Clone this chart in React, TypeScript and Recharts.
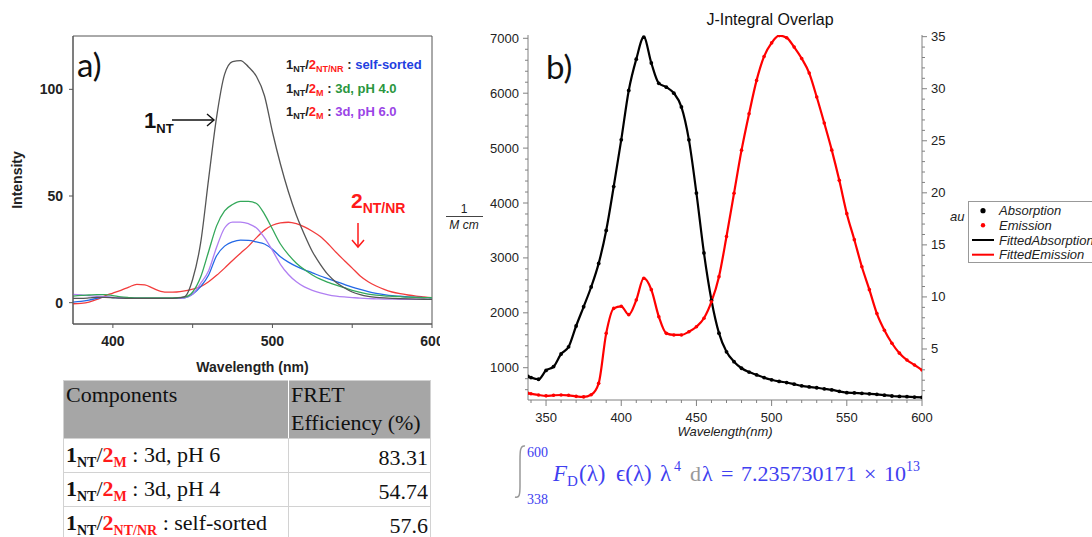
import React from 'react';
import { LineChart, Line, XAxis, YAxis, ReferenceArea, Label } from 'recharts';

// panel a: emission spectra (intensity vs wavelength, nm)
const waveA = [
  375, 380, 385, 390, 395, 400, 405, 410, 415, 420,
  425, 430, 435, 440, 445, 450, 455, 460, 465, 470,
  475, 480, 485, 490, 495, 500, 505, 510, 515, 520,
  525, 530, 535, 540, 545, 550, 555, 560, 565, 570,
  575, 580, 585, 590, 595, 600,
];
const donorOnly = [
  2, 2, 2.2, 2.5, 2.5, 2.3, 2.1, 2, 2, 2,
  2, 2, 2, 2.1, 2.8, 11, 28, 58, 87, 107,
  113, 113.5, 110.5, 106, 97, 80, 65, 52, 41, 32,
  24, 18, 13, 9.5, 7, 5, 3.8, 3, 2.5, 2.2,
  2, 1.9, 1.8, 1.7, 1.6, 1.5,
];
const ph4 = [
  3.1, 3.4, 3.6, 3.8, 3.8, 3.3, 2.7, 2.4, 2.2, 2.2,
  2.2, 2.2, 2.2, 2.3, 2.6, 5, 12, 24, 36, 43,
  46, 47.5, 47.5, 46.5, 41.5, 34.5, 27.5, 22.5, 18.5, 15.5,
  13, 11, 9.5, 8.2, 7, 5.8, 4.8, 4, 3.5, 3.2,
  3, 2.8, 2.6, 2.5, 2.4, 2.3,
];
const ph6 = [
  3.9, 3.6, 3.3, 3, 2.8, 2.5, 2.3, 2.1, 2, 2,
  2, 2, 2, 2.1, 2.3, 4, 9, 15, 26, 35,
  37.8, 37.8, 37, 35, 30.5, 24.5, 18, 13.2, 9.8, 7.4,
  5.8, 4.6, 3.7, 3.1, 2.7, 2.4, 2.1, 1.9, 1.8, 1.7,
  1.7, 1.6, 1.6, 1.6, 1.5, 1.5,
];
const selfSorted = [
  0.3, 0.6, 1.2, 2, 2.6, 2.4, 2.2, 2.1, 2, 2,
  2, 2, 2, 2.1, 2.3, 4, 7.5, 13, 22, 26.5,
  28.5, 29.3, 29.2, 28.5, 27.5, 25, 21.5, 19, 17, 15.4,
  14, 12.5, 11.2, 9.9, 8.6, 7.3, 6.2, 5.2, 4.4, 3.8,
  3.3, 3, 2.7, 2.5, 2.4, 2.3,
];
const acceptor = [
  -0.5, -0.3, 0.3, 1.5, 3.2, 4.5, 5.8, 7.3, 8.6, 8.3,
  6.8, 5.3, 4.9, 5, 5.5, 6.3, 7.5, 9.8, 12.8, 16.2,
  19.8, 23.2, 26.5, 30.5, 34, 36.3, 37.4, 37.7, 37, 35.5,
  33.5, 31, 27.5, 23.5, 19.8, 16.2, 12.5, 9.8, 7.8, 6.2,
  5, 4.2, 3.6, 3.1, 2.7, 2.3,
];
const ticksAX = [400, 450, 500, 550, 600];
const labelsAX = [400, 500, 600];
const ticksAY = [0, 50, 100];

const legendAcceptors = ['NT/NR', 'M', 'M'];
const legendNotes = ['self-sorted', '3d, pH 4.0', '3d, pH 6.0'];

// panel b: absorption (1/M cm) and emission (au)
const waveB = [
  338, 340, 345, 350, 355, 360, 365, 370, 375, 380,
  385, 390, 395, 400, 405, 410, 415, 420, 425, 430,
  435, 440, 445, 450, 455, 460, 465, 470, 475, 480,
  485, 490, 495, 500, 505, 510, 515, 520, 525, 530,
  535, 540, 545, 550, 555, 560, 565, 570, 575, 580,
  585, 590, 595, 600,
];
const absorption = [
  840, 820, 790, 950, 1020, 1250, 1380, 1760, 2110, 2470,
  2900, 3500, 4300, 5150, 6050, 6620, 7020, 6550, 6180, 6110,
  6000, 5750, 5150, 4180, 3090, 2230, 1630, 1290, 1110, 990,
  920, 870, 820, 780, 750, 730, 700, 670, 650, 635,
  615, 595, 570, 545, 540, 533, 525, 515, 500, 485,
  478, 472, 465, 460,
];
const emission = [
  0.75, 0.7, 0.58, 0.5, 0.55, 0.58, 0.55, 0.45, 0.4, 0.6,
  1.7, 6.5, 8.9, 9.1, 8.3, 9.7, 11.8, 10.7, 8.1, 6.5,
  6.35, 6.35, 6.66, 7.14, 7.95, 9.54, 11.95, 15.8, 19.96, 24.1,
  27.6, 30.8, 33.1, 34.4, 35.1, 34.9, 34, 32.9, 31.5, 29.2,
  26.7, 24.1, 21.2, 18, 15.5, 12.9, 10.7, 8.4, 6.8, 5.55,
  4.6, 3.94, 3.46, 2.98,
];
const majorBX = [350, 400, 450, 500, 550, 600];
const majorBLeft = [1000, 2000, 3000, 4000, 5000, 6000, 7000];
const majorBRight = [5, 10, 15, 20, 25, 30, 35];

// table
const rowAcceptors = ['M', 'M', 'NT/NR'];
const rowNotes = ['3d, pH 6', '3d, pH 4', 'self-sorted'];
const fretEfficiency = ['83.31', '54.74', '57.6'];

const SANS = '"Liberation Sans", Arial, sans-serif';
const SERIF = '"Liberation Serif", "Times New Roman", serif';
const RED = '#ff1a1a';
const BLUE_EQ = '#4040f0';
const noteColors = ['#1f3fe0', '#2a9640', '#9a45e6'];

const range = (a: number, b: number, s: number) =>
  Array.from({ length: Math.floor((b - a) / s) + 1 }, (_, i) => a + i * s);

const dataA = waveA.map((w, i) => ({
  w,
  donor: donorOnly[i],
  ph4: ph4[i],
  ph6: ph6[i],
  self: selfSorted[i],
  acc: acceptor[i],
}));
const dataB = waveB.map((w, i) => ({ w, abs: absorption[i], em: emission[i] }));

const AX = '#808080';

function BottomTick(p: any) {
  const major = majorBX.includes(p.payload.value);
  return (
    <g>
      <line x1={p.x} x2={p.x} y1={p.y} y2={p.y + (major ? 6 : 3)} stroke={AX} />
      {major && (
        <text x={p.x} y={p.y + 17} textAnchor="middle" dominantBaseline="central" fontSize={13} fill="#222" fontFamily={SANS}>
          {p.payload.value}
        </text>
      )}
    </g>
  );
}

function LeftTick(p: any) {
  const major = majorBLeft.includes(p.payload.value);
  return (
    <g>
      <line x1={p.x - (major ? 5 : 3)} x2={p.x} y1={p.y} y2={p.y} stroke={AX} />
      {major && (
        <text x={p.x - 9} y={p.y} textAnchor="end" dominantBaseline="central" fontSize={13} fill="#222" fontFamily={SANS}>
          {p.payload.value}
        </text>
      )}
    </g>
  );
}

function RightTick(p: any) {
  const major = majorBRight.includes(p.payload.value);
  return (
    <g>
      <line x1={p.x} x2={p.x + (major ? 5 : 3)} y1={p.y} y2={p.y} stroke={AX} />
      {major && (
        <text x={p.x + 9} y={p.y} textAnchor="start" dominantBaseline="central" fontSize={13} fill="#222" fontFamily={SANS}>
          {p.payload.value}
        </text>
      )}
    </g>
  );
}

function IntensityLabel(props: any) {
  const vb = props.viewBox || { x: 13, y: 36, height: 288 };
  const cy = vb.y + vb.height / 2;
  return (
    <text x={vb.x + 4} y={cy} transform={`rotate(-90 ${vb.x + 4} ${cy})`} textAnchor="middle" dominantBaseline="central"
      fontSize={14} fontWeight={700} fill="#222" fontFamily={SANS}>
      Intensity
    </text>
  );
}

function PanelA() {
  const tickStyle = { fill: '#222', fontSize: 14, fontWeight: 700, fontFamily: SANS };
  return (
    <LineChart width={440} height={375} data={dataA} margin={{ top: 36, right: 8, bottom: 0, left: 13 }}>
      <XAxis dataKey="w" type="number" domain={[375, 600]} ticks={ticksAX} interval={0} allowDataOverflow
        tickFormatter={(v: number) => (labelsAX.includes(v) ? String(v) : '')}
        tickSize={4} tickMargin={8} height={51} stroke="#555" tick={tickStyle}>
        <Label value="Wavelength (nm)" position="insideBottom" offset={3}
          style={{ fontSize: 14, fontWeight: 700, fill: '#222', fontFamily: SANS }} />
      </XAxis>
      <YAxis type="number" domain={[-10, 125]} ticks={ticksAY} interval={0} width={60} allowDataOverflow
        tickSize={4} tickMargin={6} stroke="#555" tick={tickStyle}>
        <Label content={<IntensityLabel />} />
      </YAxis>
      <ReferenceArea x1={375} x2={600} y1={-10} y2={125} fill="none" stroke="#555" />
      <Line type="monotone" dataKey="acc" stroke="#f23c3c" strokeWidth={1.3} dot={false} isAnimationActive={false} />
      <Line type="monotone" dataKey="self" stroke="#2368e6" strokeWidth={1.3} dot={false} isAnimationActive={false} />
      <Line type="monotone" dataKey="ph6" stroke="#b07ff2" strokeWidth={1.3} dot={false} isAnimationActive={false} />
      <Line type="monotone" dataKey="ph4" stroke="#34a85a" strokeWidth={1.3} dot={false} isAnimationActive={false} />
      <Line type="monotone" dataKey="donor" stroke="#555" strokeWidth={1.3} dot={false} isAnimationActive={false} />
    </LineChart>
  );
}

function PanelB() {
  return (
    <LineChart width={652} height={440} data={dataB} margin={{ top: 35, right: 130, bottom: 4, left: 28 }}>
      <XAxis dataKey="w" type="number" domain={[338, 600]} ticks={range(340, 600, 10)} interval={0} allowDataOverflow
        tickSize={0} tickMargin={0} tickLine={false} stroke={AX} tick={(p: any) => <BottomTick {...p} />} height={36}>
        <Label value="Wavelength(nm)" position="insideBottom" offset={0}
          style={{ fontSize: 13, fontStyle: 'italic', fill: '#222', fontFamily: SANS }} />
      </XAxis>
      <YAxis yAxisId="abs" type="number" domain={[412, 7060]} ticks={range(600, 7000, 200)} interval={0} width={60}
        allowDataOverflow tickSize={0} tickMargin={0} tickLine={false} stroke={AX} tick={(p: any) => <LeftTick {...p} />} />
      <YAxis yAxisId="em" orientation="right" type="number" domain={[0.1, 35.16]} ticks={range(1, 35, 1)} interval={0}
        width={40} allowDataOverflow tickSize={0} tickMargin={0} tickLine={false} stroke={AX}
        tick={(p: any) => <RightTick {...p} />} />
      <Line yAxisId="abs" type="monotone" dataKey="abs" stroke="#000" strokeWidth={2.2}
        dot={{ r: 1.9, fill: '#000', stroke: 'none' }} isAnimationActive={false} />
      <Line yAxisId="em" type="monotone" dataKey="em" stroke="#ff0000" strokeWidth={2.2}
        dot={{ r: 1.8, fill: '#ff0000', stroke: 'none' }} isAnimationActive={false} />
    </LineChart>
  );
}

function LegendLineA({ i, y }: { i: number; y: number }) {
  return (
    <text x={286} y={y} fontSize={13} fontWeight={700} fontFamily={SANS} style={{ whiteSpace: 'pre' }}>
      <tspan fill="#222">1</tspan>
      <tspan fill="#222" fontSize={9} dy={3}>NT</tspan>
      <tspan fill="#222" dy={-3}>/</tspan>
      <tspan fill={RED}>2</tspan>
      <tspan fill={RED} fontSize={9} dy={3}>{legendAcceptors[i]}</tspan>
      <tspan fill="#222" dy={-3}> : </tspan>
      <tspan fill={noteColors[i]}>{legendNotes[i]}</tspan>
    </text>
  );
}

function Overlay() {
  return (
    <svg width={1092} height={537} style={{ position: 'absolute', left: 0, top: 0, pointerEvents: 'none' }}>
      {/* panel a annotations */}
      <text x={77} y={77} fontSize={33} fontFamily="Lato, sans-serif" fill="#111">a)</text>
      {[0, 1, 2].map((i) => <LegendLineA key={i} i={i} y={69 + i * 23.5} />)}
      <text x={144} y={128} fontSize={22} fontWeight={700} fontFamily={SANS} fill="#111">
        1<tspan fontSize={13} dy={5}>NT</tspan>
      </text>
      <line x1={172} y1={120} x2={214} y2={120} stroke="#111" strokeWidth={1.4} />
      <polyline points="207,114 214,120 207,126" fill="none" stroke="#111" strokeWidth={1.4} />
      <text x={351} y={208} fontSize={21} fontWeight={700} fontFamily={SANS} fill={RED}>
        2<tspan fontSize={14} dy={5}>NT/NR</tspan>
      </text>
      <line x1={358} y1={223} x2={358} y2={247} stroke={RED} strokeWidth={1.5} />
      <polyline points="352,240 358,247 364,240" fill="none" stroke={RED} strokeWidth={1.5} />

      {/* panel b annotations */}
      <text x={770} y={25} fontSize={16} textAnchor="middle" fontFamily={SANS} fill="#111">J-Integral Overlap</text>
      <text x={546} y={79} fontSize={33} fontFamily="Lato, sans-serif" fill="#111">b)</text>
      <text x={464} y={213} fontSize={12} textAnchor="middle" fontFamily={SANS} fill="#222">1</text>
      <line x1={446} y1={216.5} x2={483} y2={216.5} stroke="#444" strokeWidth={1} />
      <text x={464} y={229} fontSize={12} textAnchor="middle" fontStyle="italic" fontFamily={SANS} fill="#222">M cm</text>
      <text x={950} y={221} fontSize={13} fontStyle="italic" fontFamily={SANS} fill="#222">au</text>
      <rect x={968.5} y={201.5} width={140} height={61} fill="#fff" stroke="#999" />
      <circle cx={983} cy={210.7} r={2.6} fill="#000" />
      <circle cx={983} cy={225.3} r={2.2} fill="#ff0000" />
      <line x1={972} y1={240} x2={994} y2={240} stroke="#000" strokeWidth={2} />
      <line x1={972} y1={254.7} x2={994} y2={254.7} stroke="#ff0000" strokeWidth={2} />
      {['Absorption', 'Emission', 'FittedAbsorption', 'FittedEmission'].map((t, i) => (
        <text key={t} x={999} y={215.3 + i * 14.7} fontSize={13} fontStyle="italic" fontFamily={SANS} fill="#222">{t}</text>
      ))}

      {/* overlap integral */}
      <path d="M 525 446 C 520 445, 520 452, 520 460 L 520 486 C 520 496, 519 498, 515 497" fill="none" stroke="#999" strokeWidth={1.5} />
      <text x={527} y={457} fontSize={14} fontFamily={SERIF} fill={BLUE_EQ}>600</text>
      <text x={527} y={504} fontSize={14} fontFamily={SERIF} fill={BLUE_EQ}>338</text>
      <text y={481} fontSize={22} fontFamily={SERIF} fill={BLUE_EQ} style={{ whiteSpace: 'pre' }}>
        <tspan x={553} fontSize={23} fontStyle="italic">F</tspan>
        <tspan x={567} fontSize={15} dy={5}>D</tspan>
        <tspan x={579} fontSize={23} dy={-5}>(λ)</tspan>
        <tspan x={616} fontSize={23}>ϵ(λ)</tspan>
        <tspan x={660} fontSize={23}>λ</tspan>
        <tspan x={674} fontSize={14} dy={-10}>4</tspan>
        <tspan x={690} dy={10} fill="#999">d</tspan>
        <tspan x={702}>λ</tspan>
        <tspan x={721}>=</tspan>
        <tspan x={741}>7.235730171</tspan>
        <tspan x={864}>×</tspan>
        <tspan x={884}>10</tspan>
        <tspan x={906} fontSize={14} dy={-10}>13</tspan>
      </text>
    </svg>
  );
}

function FretTable() {
  const cell: React.CSSProperties = { border: '1px solid #d2d2d2', padding: '0 2px', height: 33, verticalAlign: 'bottom' };
  const sub: React.CSSProperties = { fontSize: 14, fontWeight: 700, position: 'relative', top: 5 };
  return (
    <table style={{
      position: 'absolute', left: 63, top: 380, width: 368, borderCollapse: 'collapse',
      fontFamily: SERIF, fontSize: 22, lineHeight: '28px', color: '#111', border: '1px solid #777',
    }}>
      <tbody>
        <tr style={{ background: '#a6a6a6' }}>
          <td style={{ ...cell, width: 220, height: 57, verticalAlign: 'top', borderRight: '1px solid #fff' }}>Components</td>
          <td style={{ ...cell, height: 57, verticalAlign: 'top' }}>FRET<br />Efficiency (%)</td>
        </tr>
        {rowNotes.map((note, i) => (
          <tr key={note}>
            <td style={cell}>
              <b>1</b><span style={sub}>NT</span>/<b style={{ color: RED }}>2</b>
              <span style={{ ...sub, color: RED }}>{rowAcceptors[i]}</span> : {note}
            </td>
            <td style={{ ...cell, textAlign: 'right' }}>{fretEfficiency[i]}</td>
          </tr>
        ))}
      </tbody>
    </table>
  );
}

export default function App() {
  return (
    <div style={{ position: 'absolute', left: 0, top: 0, width: 1092, height: 537, overflow: 'hidden', background: '#fff', fontFamily: SANS }}>
      <div style={{ position: 'absolute', left: 0, top: 0, width: 440, height: 375, overflow: 'hidden' }}>
        <PanelA />
      </div>
      <div style={{ position: 'absolute', left: 440, top: 0, width: 652, height: 440 }}>
        <PanelB />
      </div>
      <FretTable />
      <Overlay />
    </div>
  );
}
